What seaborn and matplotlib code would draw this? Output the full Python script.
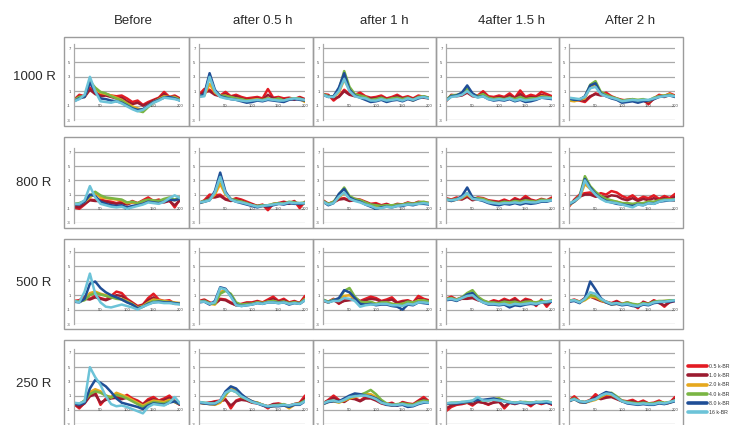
import numpy as np
import pandas as pd
import matplotlib
matplotlib.use("Agg")
import matplotlib.pyplot as plt
import seaborn as sns
from matplotlib.patches import Rectangle
from matplotlib.lines import Line2D

sns.set_theme(style="white")
plt.rcParams['font.family'] = ['Liberation Sans', 'DejaVu Sans']

# ---------------- data ----------------
x_pos = list(range(0, 201, 10))
series = ["0.5 k-BR", "1.0 k-BR", "2.0 k-BR", "4.0 k-BR", "8.0 k-BR", "16 k-BR"]
colors = ["#e31b23", "#9b1b30", "#e6a81e", "#7ab543", "#1f4e96", "#6cc3d8"]
row_labels = ["1000 R", "800 R", "500 R", "250 R"]
col_labels = ["Before", "after 0.5 h", "after 1 h", "4after 1.5 h", "After 2 h"]
y_ticks = [7, 5, 3, 1, -1, -3]
x_ticks = [50, 100, 150, 200]

# each panel: values per series, in the order of `series`
r1000_before = [
    [-0.2, 0.5, 0.3, 1.5, 0.8, 0.5, 0.6, 0.4, 0.3, 0.4, 0.0, -0.5, -0.3, -0.9, -0.5, -0.2, 0.1, 0.9, 0.2, 0.4, 0.0],
    [-0.3, 0.3, 0.2, 1.2, 0.6, 0.3, 0.4, 0.2, 0.0, 0.1, -0.4, -0.8, -0.6, -1.0, -0.7, -0.3, 0.0, 0.6, 0.1, 0.3, -0.1],
    [-0.3, 0.2, 0.2, 2.4, 1.3, 0.8, 0.6, 0.4, 0.1, -0.2, -0.7, -1.1, -1.4, -1.6, -1.0, -0.5, -0.1, 0.3, 0.2, 0.2, -0.2],
    [-0.3, 0.2, 0.3, 2.4, 1.5, 0.9, 0.7, 0.3, 0.0, -0.3, -0.8, -1.3, -1.7, -1.9, -1.2, -0.6, -0.2, 0.2, 0.1, 0.1, -0.2],
    [-0.4, 0.0, 0.2, 2.2, 0.9, 0.0, -0.1, -0.3, -0.4, -0.6, -1.0, -1.4, -1.6, -1.5, -1.0, -0.5, -0.2, 0.1, 0.2, 0.0, -0.3],
    [-0.4, -0.1, 0.5, 3.0, 1.0, -0.4, -0.5, -0.6, -0.4, -0.7, -1.1, -1.5, -1.8, -1.6, -1.1, -0.6, -0.3, 0.1, 0.0, -0.1, -0.3],
]
r1000_05h = [
    [0.5, 1.3, 1.2, 0.7, 0.4, 0.9, 0.3, 0.5, 0.2, 0.0, 0.1, 0.2, 0.0, 1.3, 0.1, 0.2, 0.0, 0.1, -0.1, 0.2, -0.1],
    [0.4, 0.9, 1.0, 0.5, 0.3, 0.6, 0.2, 0.3, 0.0, -0.2, -0.1, 0.0, -0.2, 0.5, 0.0, 0.0, -0.2, 0.0, -0.2, 0.1, -0.2],
    [0.3, 0.4, 2.0, 0.8, 0.3, 0.4, 0.1, 0.0, -0.2, -0.3, -0.2, -0.1, -0.3, 0.0, -0.2, -0.1, -0.3, -0.1, 0.0, -0.1, -0.5],
    [0.3, 0.5, 3.1, 1.0, 0.4, 0.3, 0.2, 0.0, -0.1, -0.3, -0.3, -0.2, -0.2, 0.0, -0.2, 0.0, -0.3, -0.1, 0.0, 0.0, -0.3],
    [0.2, 0.6, 3.5, 1.2, 0.3, 0.1, -0.1, -0.2, -0.4, -0.6, -0.5, -0.3, -0.4, -0.2, -0.3, -0.4, -0.5, -0.2, -0.1, -0.2, -0.3],
    [0.2, 0.3, 3.0, 1.0, 0.2, 0.0, -0.1, -0.2, -0.3, -0.4, -0.3, -0.2, -0.3, -0.1, -0.2, -0.3, -0.3, -0.1, 0.0, -0.1, -0.2],
]
r1000_1h = [
    [0.6, 0.5, -0.3, 0.3, 1.2, 0.6, 0.5, 0.8, 0.3, 0.1, 0.2, 0.4, 0.0, 0.2, 0.5, 0.1, 0.3, 0.0, 0.4, 0.2, 0.1],
    [0.5, 0.4, 0.0, 0.2, 1.0, 0.5, 0.3, 0.5, 0.1, 0.0, 0.0, 0.2, -0.1, 0.0, 0.3, 0.0, 0.1, -0.1, 0.2, 0.1, 0.0],
    [0.5, 0.3, 0.2, 0.8, 2.6, 1.2, 0.5, 0.3, 0.1, -0.3, -0.2, 0.0, -0.3, -0.1, 0.0, -0.2, 0.0, -0.3, 0.1, 0.3, 0.0],
    [0.6, 0.3, 0.3, 1.2, 3.8, 1.6, 0.6, 0.4, 0.2, -0.2, -0.1, 0.1, -0.2, 0.0, 0.1, -0.1, 0.1, -0.2, 0.2, 0.3, 0.1],
    [0.5, 0.2, 0.3, 1.5, 3.5, 1.2, 0.4, 0.1, -0.2, -0.5, -0.4, -0.2, -0.5, -0.3, -0.2, -0.4, -0.1, -0.3, 0.0, 0.2, 0.0],
    [0.5, 0.2, 0.2, 1.0, 2.7, 1.0, 0.3, 0.1, 0.0, -0.3, -0.3, -0.1, -0.3, -0.2, -0.1, -0.3, 0.0, -0.2, 0.1, 0.2, 0.0],
]
r1000_15h = [
    [-0.4, 0.5, 0.4, 0.6, 0.9, 0.5, 0.4, 1.0, 0.3, 0.2, 0.4, 0.2, 0.7, 0.1, 1.1, 0.2, 0.5, 0.3, 0.9, 0.6, 0.3],
    [-0.3, 0.4, 0.3, 0.4, 0.8, 0.3, 0.2, 0.7, 0.1, 0.0, 0.2, 0.0, 0.4, 0.0, 0.6, 0.0, 0.2, 0.1, 0.5, 0.3, 0.1],
    [-0.3, 0.3, 0.4, 0.6, 1.2, 0.6, 0.3, 0.5, 0.0, -0.1, 0.0, -0.2, 0.1, -0.2, 0.1, -0.2, 0.0, -0.1, 0.3, 0.2, 0.0],
    [-0.2, 0.4, 0.5, 0.7, 1.3, 0.6, 0.3, 0.6, 0.1, -0.1, 0.0, -0.1, 0.1, -0.1, 0.2, -0.1, 0.0, 0.0, 0.2, 0.2, 0.1],
    [-0.3, 0.3, 0.4, 0.8, 1.8, 0.7, 0.2, 0.3, -0.1, -0.3, -0.2, -0.3, -0.1, -0.4, -0.2, -0.5, -0.4, -0.2, 0.1, 0.0, -0.1],
    [-0.3, 0.2, 0.3, 0.5, 1.0, 0.4, 0.1, 0.3, -0.1, -0.2, -0.1, -0.2, 0.0, -0.3, -0.1, -0.3, -0.2, -0.1, 0.1, 0.1, 0.0],
]
r1000_2h = [
    [0.0, -0.2, -0.3, -0.5, 0.2, 0.7, 0.5, 0.8, 0.3, 0.0, -0.2, -0.3, -0.1, -0.5, -0.2, -0.8, 0.0, 0.5, 0.3, 0.7, 0.4],
    [0.0, -0.1, -0.2, -0.3, 0.3, 0.6, 0.4, 0.5, 0.2, -0.1, -0.3, -0.2, -0.2, -0.4, -0.3, -0.6, -0.1, 0.3, 0.2, 0.5, 0.3],
    [-0.3, -0.4, -0.2, 0.0, 1.6, 1.9, 0.8, 0.4, 0.1, -0.1, -0.4, -0.3, -0.2, -0.3, -0.2, -0.4, 0.0, 0.3, 0.4, 0.6, 0.2],
    [-0.1, -0.2, -0.1, 0.2, 1.9, 2.4, 0.9, 0.5, 0.2, 0.0, -0.3, -0.2, -0.1, -0.2, -0.1, -0.3, 0.1, 0.3, 0.4, 0.5, 0.3],
    [0.0, -0.2, -0.2, 0.3, 1.8, 2.1, 0.7, 0.3, 0.0, -0.2, -0.6, -0.5, -0.4, -0.6, -0.4, -0.3, -0.1, 0.2, 0.3, 0.4, 0.2],
    [0.1, 0.0, -0.1, 0.2, 1.4, 1.6, 0.6, 0.3, 0.1, -0.1, -0.4, -0.3, -0.2, -0.3, -0.2, -0.2, 0.0, 0.2, 0.3, 0.4, 0.3],
]
r800_before = [
    [-0.8, -1.0, -0.4, 0.3, 0.2, 0.3, 0.1, 0.0, -0.2, 0.0, -0.3, 0.1, -0.2, 0.2, 0.6, 0.1, 0.3, 0.0, 0.2, -0.8, 0.4],
    [-0.7, -0.8, -0.3, 0.2, 0.1, 0.1, 0.0, -0.2, -0.3, -0.2, -0.4, -0.1, -0.3, 0.0, 0.3, 0.0, 0.1, -0.1, 0.1, -0.5, 0.2],
    [-0.4, -0.3, 0.0, 0.6, 1.2, 0.6, 0.5, 0.4, 0.3, 0.2, -0.2, -0.1, -0.3, 0.0, 0.2, 0.1, 0.0, 0.3, 0.4, 0.2, 0.5],
    [-0.3, -0.2, 0.1, 0.8, 1.4, 0.9, 0.6, 0.5, 0.4, 0.3, -0.1, 0.0, -0.2, 0.1, 0.3, 0.2, 0.1, 0.4, 0.6, 0.3, 0.6],
    [-0.4, -0.4, 0.0, 1.0, 0.8, 0.0, -0.3, -0.5, -0.6, -0.5, -0.8, -0.6, -0.5, -0.3, 0.0, -0.1, -0.2, 0.0, 0.3, 0.2, 0.4],
    [-0.3, -0.3, 0.2, 2.2, 0.6, -0.3, -0.5, -0.7, -0.8, -0.7, -1.0, -0.8, -0.6, -0.4, -0.1, -0.2, -0.3, 0.0, 0.5, 0.9, 0.5],
]
r800_05h = [
    [-0.2, 0.2, 1.0, 0.9, 1.0, 0.4, 0.2, 0.5, 0.3, 0.0, -0.3, -0.6, -0.4, -1.2, -0.3, -0.2, 0.0, -0.2, 0.1, -0.9, 0.0],
    [-0.2, 0.1, 0.6, 0.6, 0.8, 0.3, 0.1, 0.3, 0.1, -0.2, -0.4, -0.6, -0.5, -0.8, -0.4, -0.3, -0.1, -0.3, 0.0, -0.5, -0.1],
    [-0.2, 0.0, 0.3, 1.0, 2.5, 1.0, 0.3, 0.1, 0.0, -0.3, -0.5, -0.7, -0.6, -0.5, -0.4, -0.2, -0.3, -0.1, -0.2, -0.3, -0.2],
    [-0.1, 0.1, 0.3, 1.3, 3.3, 1.2, 0.4, 0.2, 0.0, -0.2, -0.5, -0.6, -0.5, -0.5, -0.3, -0.2, -0.3, 0.0, -0.1, -0.2, -0.1],
    [-0.2, 0.0, 0.2, 1.5, 4.1, 1.4, 0.3, 0.0, -0.2, -0.4, -0.6, -0.8, -0.6, -0.6, -0.5, -0.3, -0.4, -0.2, -0.3, -0.3, -0.2],
    [-0.1, 0.0, 0.2, 1.3, 3.5, 1.2, 0.3, 0.0, -0.1, -0.3, -0.5, -0.7, -0.6, -0.5, -0.4, -0.3, -0.3, -0.1, -0.2, -0.2, -0.2],
]
r800_1h = [
    [0.2, -0.3, 0.0, 0.4, 0.5, 0.2, 0.4, 0.3, 0.0, -0.3, -0.2, -0.5, -0.3, -0.6, -0.3, -0.4, -0.1, -0.3, 0.0, -0.1, -0.2],
    [0.1, -0.3, -0.1, 0.3, 0.4, 0.1, 0.2, 0.1, -0.1, -0.4, -0.4, -0.6, -0.4, -0.6, -0.4, -0.4, -0.2, -0.3, -0.1, -0.2, -0.2],
    [0.0, -0.4, -0.1, 0.6, 1.2, 0.6, 0.3, 0.2, -0.2, -0.5, -0.6, -0.7, -0.5, -0.6, -0.5, -0.5, -0.3, -0.4, -0.2, -0.1, -0.3],
    [0.1, -0.3, 0.0, 1.0, 2.0, 0.8, 0.4, 0.2, -0.1, -0.4, -0.5, -0.6, -0.5, -0.5, -0.4, -0.4, -0.2, -0.3, -0.1, 0.0, -0.2],
    [0.0, -0.5, -0.2, 1.1, 1.8, 0.6, 0.2, 0.0, -0.4, -0.7, -1.0, -0.8, -0.7, -0.8, -0.6, -0.6, -0.4, -0.5, -0.3, -0.3, -0.4],
    [0.0, -0.4, -0.2, 0.7, 1.3, 0.4, 0.1, -0.1, -0.4, -0.6, -0.9, -0.9, -0.7, -0.8, -0.6, -0.5, -0.4, -0.4, -0.3, -0.2, -0.3],
]
r800_15h = [
    [0.5, 0.3, 0.6, 0.4, 0.9, 0.3, 0.6, 0.5, 0.2, 0.1, 0.0, 0.3, 0.0, 0.5, 0.2, 0.8, 0.3, 0.1, 0.4, 0.2, 0.6],
    [0.4, 0.2, 0.4, 0.3, 0.7, 0.2, 0.4, 0.3, 0.1, 0.0, -0.1, 0.1, -0.1, 0.3, 0.1, 0.5, 0.2, 0.0, 0.3, 0.1, 0.4],
    [0.3, 0.1, 0.3, 0.5, 1.0, 0.4, 0.4, 0.3, 0.0, -0.2, -0.3, -0.1, -0.2, 0.0, -0.1, 0.1, 0.0, -0.1, 0.2, 0.1, 0.3],
    [0.4, 0.2, 0.4, 0.6, 1.2, 0.5, 0.5, 0.4, 0.1, -0.1, -0.2, 0.0, -0.1, 0.1, 0.0, 0.2, 0.1, 0.0, 0.3, 0.2, 0.3],
    [0.3, 0.1, 0.3, 0.8, 2.0, 0.6, 0.3, 0.1, -0.2, -0.4, -0.5, -0.3, -0.4, -0.2, -0.4, -0.2, -0.3, -0.2, 0.0, 0.0, 0.2],
    [0.3, 0.2, 0.3, 0.6, 1.2, 0.4, 0.3, 0.2, -0.1, -0.2, -0.3, -0.2, -0.2, -0.1, -0.2, 0.0, -0.1, -0.1, 0.1, 0.1, 0.2],
]
r800_2h = [
    [-0.7, 0.3, 1.0, 1.2, 1.3, 0.9, 1.2, 1.0, 1.5, 1.3, 0.8, 0.5, 0.9, 0.3, 0.7, 0.5, 0.9, 0.4, 0.8, 0.5, 1.1],
    [-0.5, 0.2, 0.7, 1.0, 1.0, 0.7, 0.8, 0.6, 0.9, 0.8, 0.4, 0.2, 0.5, 0.1, 0.4, 0.2, 0.5, 0.2, 0.5, 0.3, 0.7],
    [-0.5, 0.0, 0.6, 2.5, 1.8, 1.2, 0.7, 0.3, 0.1, 0.0, -0.2, -0.3, -0.4, -0.2, -0.3, 0.0, -0.1, 0.1, 0.2, 0.3, 0.2],
    [-0.3, 0.1, 0.8, 3.6, 2.2, 1.4, 0.8, 0.4, 0.2, 0.0, -0.2, -0.2, -0.3, -0.2, -0.2, 0.0, 0.0, 0.2, 0.3, 0.3, 0.3],
    [-0.4, 0.0, 0.7, 3.2, 2.0, 1.1, 0.5, 0.1, -0.1, -0.3, -0.4, -0.5, -0.6, -0.4, -0.5, -0.2, -0.3, 0.0, 0.1, 0.2, 0.2],
    [-0.3, 0.1, 0.6, 3.0, 1.8, 1.0, 0.4, 0.0, -0.1, -0.2, -0.4, -0.6, -0.8, -0.4, -0.5, -0.2, -0.3, 0.0, 0.2, 0.2, 0.3],
]
r500_before = [
    [0.2, 0.3, 0.8, 0.5, 0.9, 0.6, 0.4, 0.9, 1.5, 1.3, 0.5, 0.0, -0.5, -0.3, 0.6, 1.2, 0.4, 0.2, 0.3, -0.2, -0.1],
    [0.1, 0.2, 0.5, 0.4, 0.7, 0.5, 0.3, 0.6, 1.0, 0.9, 0.3, -0.1, -0.6, -0.4, 0.3, 0.7, 0.2, 0.1, 0.1, -0.2, -0.2],
    [0.2, 0.1, 0.4, 1.3, 1.5, 1.2, 1.0, 0.8, 0.6, 0.5, 0.2, -0.2, -0.7, -0.5, 0.0, 0.4, 0.3, 0.2, 0.1, 0.0, -0.1],
    [0.2, 0.1, 0.3, 1.0, 1.3, 1.1, 0.9, 0.7, 0.5, 0.4, 0.1, -0.3, -0.9, -0.6, -0.1, 0.2, 0.2, 0.1, 0.0, -0.1, -0.2],
    [0.1, 0.0, 0.5, 2.6, 2.9, 2.0, 1.4, 1.0, 0.7, 0.4, 0.0, -0.3, -0.8, -0.6, -0.2, 0.0, 0.1, 0.0, 0.0, -0.1, -0.2],
    [0.2, 0.0, 1.5, 4.0, 1.2, 0.0, -0.6, -0.7, -0.5, -0.3, -0.5, -0.7, -1.0, -0.6, -0.3, 0.0, 0.0, -0.1, -0.1, -0.2, -0.3],
]
r500_05h = [
    [0.2, 0.4, 0.0, -0.2, 0.5, 0.4, 0.0, -0.4, -0.2, 0.0, 0.0, 0.2, 0.0, 0.4, 0.8, 0.2, 0.5, 0.0, 0.2, -0.1, 0.9],
    [0.1, 0.3, -0.1, -0.2, 0.4, 0.3, -0.1, -0.4, -0.3, -0.1, -0.1, 0.1, -0.1, 0.2, 0.5, 0.1, 0.3, -0.1, 0.1, -0.1, 0.6],
    [0.1, 0.2, -0.2, -0.3, 1.4, 1.8, 1.0, -0.2, -0.4, -0.3, -0.2, 0.0, -0.1, 0.1, 0.2, 0.0, 0.1, -0.2, 0.0, -0.2, 0.5],
    [0.1, 0.2, -0.1, -0.2, 1.2, 1.6, 1.2, 0.0, -0.3, -0.2, -0.2, 0.0, -0.1, 0.1, 0.2, 0.0, 0.1, -0.1, 0.0, -0.1, 0.4],
    [0.0, 0.1, -0.3, 0.2, 2.1, 1.9, 0.9, -0.3, -0.5, -0.4, -0.3, -0.1, -0.2, 0.0, 0.0, -0.1, 0.0, -0.3, -0.1, -0.2, 0.3],
    [0.1, 0.1, -0.2, 0.0, 2.0, 1.8, 0.8, -0.4, -0.5, -0.4, -0.3, -0.1, -0.2, 0.0, 0.0, -0.1, 0.0, -0.2, -0.1, -0.2, 0.3],
]
r500_1h = [
    [0.3, 0.1, 0.5, -0.2, 0.3, 0.4, 0.6, 0.2, 0.5, 0.8, 0.6, 0.2, 0.4, 0.7, 0.0, 0.2, 0.3, 0.0, 0.9, 0.5, 0.3],
    [0.2, 0.0, 0.3, -0.1, 0.2, 0.3, 0.4, 0.1, 0.3, 0.5, 0.4, 0.1, 0.2, 0.4, -0.1, 0.1, 0.2, -0.1, 0.5, 0.3, 0.2],
    [0.3, 0.0, 0.3, 0.2, 0.9, 1.0, 0.5, 0.0, -0.1, 0.0, -0.2, -0.1, 0.0, -0.2, -0.3, -0.2, 0.0, -0.1, 0.3, 0.2, 0.0],
    [0.4, 0.1, 0.4, 0.4, 1.6, 2.0, 0.8, 0.1, 0.0, 0.1, -0.2, 0.0, 0.0, -0.2, -0.3, -0.2, 0.1, 0.0, 0.2, 0.3, 0.1],
    [0.3, 0.0, 0.3, 0.6, 1.7, 1.4, 0.6, -0.2, -0.3, -0.2, -0.4, -0.3, -0.3, -0.5, -0.6, -1.0, -0.3, -0.4, 0.0, -0.1, -0.2],
    [0.3, 0.0, 0.2, 0.2, 0.6, 0.5, 0.2, -0.6, -0.4, -0.3, -0.3, -0.2, -0.2, -0.4, -0.4, -0.5, -0.2, -0.3, 0.0, 0.0, -0.1],
]
r500_15h = [
    [0.5, 0.8, 0.4, 0.7, 0.6, 0.8, 0.4, 0.2, 0.0, 0.3, 0.1, 0.5, 0.2, 0.6, 0.0, 0.5, 0.3, -0.5, 0.4, -0.6, 0.3],
    [0.4, 0.6, 0.3, 0.5, 0.5, 0.6, 0.3, 0.1, -0.1, 0.1, 0.0, 0.3, 0.1, 0.4, -0.1, 0.3, 0.2, -0.3, 0.2, -0.3, 0.2],
    [0.4, 0.5, 0.3, 0.6, 1.0, 1.2, 0.6, 0.2, -0.1, -0.1, -0.2, 0.0, -0.1, 0.0, -0.2, 0.0, 0.1, -0.1, 0.1, 0.0, 0.2],
    [0.5, 0.6, 0.4, 0.7, 1.3, 1.7, 0.8, 0.3, 0.0, 0.0, -0.1, 0.1, 0.0, 0.1, -0.1, 0.1, 0.1, 0.0, 0.2, 0.1, 0.3],
    [0.3, 0.4, 0.2, 0.6, 1.1, 1.3, 0.5, 0.0, -0.3, -0.3, -0.4, -0.3, -0.7, -0.4, -0.5, -0.3, -0.2, -0.3, 0.0, 0.0, 0.1],
    [0.4, 0.5, 0.3, 0.6, 0.9, 1.0, 0.4, 0.0, -0.2, -0.2, -0.3, -0.2, -0.4, -0.2, -0.3, -0.2, -0.1, -0.2, 0.0, 0.1, 0.2],
]
r500_2h = [
    [0.2, 0.4, 0.1, 0.6, 1.0, 0.7, 0.3, 0.1, -0.1, 0.2, -0.2, 0.0, -0.3, -0.8, 0.1, -0.2, 0.3, 0.0, -0.6, 0.1, 0.3],
    [0.1, 0.3, 0.0, 0.5, 0.8, 0.5, 0.2, 0.0, -0.2, 0.1, -0.3, -0.1, -0.3, -0.5, 0.0, -0.2, 0.2, -0.1, -0.4, 0.0, 0.2],
    [0.2, 0.3, 0.0, 0.3, 0.8, 0.7, 0.3, 0.0, -0.3, -0.2, -0.3, -0.1, -0.3, -0.4, -0.2, -0.3, 0.0, 0.1, 0.2, 0.2, 0.3],
    [0.3, 0.3, 0.1, 0.4, 1.0, 0.9, 0.4, 0.1, -0.2, -0.1, -0.2, 0.0, -0.2, -0.3, -0.1, -0.2, 0.1, 0.2, 0.2, 0.3, 0.3],
    [0.1, 0.2, -0.1, 0.6, 2.9, 1.8, 0.6, 0.0, -0.3, -0.2, -0.4, -0.3, -0.5, -0.6, -0.3, -0.4, -0.1, 0.0, 0.1, 0.1, 0.2],
    [0.2, 0.3, 0.0, 0.5, 1.4, 1.2, 0.5, 0.1, -0.2, -0.1, -0.3, -0.2, -0.4, -0.5, -0.2, -0.3, 0.0, 0.1, 0.1, 0.2, 0.3],
]
r250_before = [
    [-0.2, -0.8, 0.0, 1.2, 1.5, -0.3, 0.6, 0.8, 1.0, 0.7, 1.1, 0.6, 0.3, -0.2, 0.5, 0.8, 0.3, 0.6, 1.0, 0.2, -0.3],
    [-0.2, -0.6, -0.1, 0.9, 1.2, 0.0, 0.4, 0.6, 0.7, 0.5, 0.7, 0.4, 0.1, -0.3, 0.3, 0.5, 0.2, 0.4, 0.7, 0.1, -0.3],
    [-0.1, -0.2, 0.3, 1.5, 1.9, 1.6, 1.0, 0.8, 1.4, 1.1, 0.8, 0.4, 0.0, -0.4, 0.0, 0.3, 0.2, 0.1, 0.4, 0.2, -0.1],
    [-0.1, -0.2, 0.3, 1.2, 1.6, 1.4, 1.0, 0.7, 1.1, 0.9, 0.6, 0.2, -0.2, -0.6, -0.2, 0.1, 0.0, -0.1, 0.2, 0.1, -0.2],
    [-0.1, -0.3, 0.0, 2.0, 3.2, 2.8, 2.3, 1.5, 0.6, 0.0, -0.2, -0.4, -0.6, -0.9, -0.4, -0.1, -0.2, -0.3, 0.0, 0.2, -0.2],
    [0.0, -0.1, 0.2, 5.0, 3.6, 2.5, 0.9, -0.2, -0.5, -0.4, -0.6, -0.9, -1.2, -1.5, -0.6, -0.2, -0.3, -0.4, 0.0, 0.8, -0.1],
]
r250_05h = [
    [0.1, -0.1, 0.0, 0.2, 0.3, 0.5, -0.8, 0.3, 0.6, 0.5, 0.1, 0.0, -0.3, -0.8, -0.2, -0.1, -0.3, -0.5, -0.2, 0.0, 1.0],
    [0.0, -0.1, 0.0, 0.1, 0.2, 0.4, -0.4, 0.2, 0.4, 0.3, 0.0, -0.1, -0.3, -0.5, -0.2, -0.2, -0.3, -0.4, -0.2, -0.1, 0.6],
    [0.0, -0.1, -0.2, -0.3, 0.0, 1.0, 2.2, 1.8, 1.0, 0.6, 0.2, 0.0, -0.3, -0.6, -0.5, -0.4, -0.3, -0.8, -0.3, -0.2, 0.3],
    [0.1, 0.0, -0.1, -0.1, 0.2, 1.2, 1.8, 1.5, 0.8, 0.5, 0.1, 0.0, -0.3, -0.5, -0.4, -0.3, -0.2, -0.5, -0.2, -0.1, 0.3],
    [0.0, -0.1, -0.2, -0.2, 0.3, 1.6, 2.3, 2.0, 1.2, 0.6, 0.2, -0.1, -0.4, -0.6, -0.5, -0.5, -0.4, -0.6, -0.3, -0.3, 0.2],
    [0.1, 0.0, -0.1, -0.1, 0.3, 1.4, 1.8, 1.5, 0.9, 0.5, 0.1, -0.1, -0.3, -0.5, -0.4, -0.4, -0.3, -0.4, -0.2, -0.2, 0.2],
]
r250_1h = [
    [-0.1, 0.4, 1.0, 0.4, 0.2, 0.8, 0.6, 0.3, 0.8, 0.9, 0.5, 0.0, -0.2, 0.0, -0.4, 0.1, -0.1, -0.2, 0.3, 0.8, 0.2],
    [-0.1, 0.3, 0.7, 0.3, 0.1, 0.6, 0.5, 0.2, 0.6, 0.6, 0.3, -0.1, -0.3, -0.1, -0.4, 0.0, -0.2, -0.3, 0.2, 0.5, 0.1],
    [-0.2, 0.1, 0.2, 0.0, 0.3, 0.6, 0.8, 1.0, 1.2, 1.2, 0.8, 0.2, -0.2, -0.4, -0.3, -0.2, -0.3, -0.4, 0.0, 0.2, 0.1],
    [-0.1, 0.2, 0.3, 0.1, 0.4, 0.7, 1.0, 1.1, 1.4, 1.8, 1.2, 0.4, -0.1, -0.3, -0.2, -0.1, -0.2, -0.3, 0.1, 0.3, 0.2],
    [-0.2, 0.1, 0.2, 0.2, 0.6, 1.0, 1.3, 1.2, 1.0, 0.9, 0.6, 0.1, -0.3, -0.4, -0.4, -0.3, -0.6, -0.5, -0.2, 0.0, 0.0],
    [-0.1, 0.2, 0.3, 0.1, 0.4, 0.8, 0.9, 1.0, 1.0, 0.8, 0.5, 0.0, -0.2, -0.3, -0.3, -0.2, -0.4, -0.4, -0.1, 0.1, 0.0],
]
r250_15h = [
    [-1.2, -0.6, -0.3, -0.2, 0.0, -0.4, 0.2, 0.0, -0.3, 0.1, 0.2, -0.8, 0.0, -0.2, 0.1, 0.0, -0.5, 0.1, -0.2, 0.1, -0.3],
    [-0.8, -0.4, -0.2, -0.1, 0.0, -0.2, 0.1, 0.0, -0.2, 0.0, 0.1, -0.5, 0.0, -0.1, 0.0, 0.0, -0.3, 0.0, -0.1, 0.0, -0.2],
    [-0.2, -0.1, 0.0, 0.0, 0.1, 0.2, 0.5, 0.3, 0.3, 0.5, 0.6, 0.2, 0.1, 0.0, 0.1, 0.0, 0.0, 0.1, 0.0, 0.1, 0.0],
    [-0.1, 0.0, 0.0, 0.1, 0.1, 0.3, 0.5, 0.3, 0.4, 0.5, 0.6, 0.3, 0.1, 0.0, 0.1, 0.1, 0.0, 0.1, 0.1, 0.2, 0.0],
    [-0.2, -0.1, -0.1, 0.0, 0.1, 0.2, 0.4, 0.4, 0.5, 0.6, 0.4, 0.2, 0.0, -0.1, 0.0, -0.1, -0.1, 0.0, 0.0, 0.0, -0.1],
    [-0.1, 0.0, 0.0, 0.1, 0.2, 0.3, 0.8, 0.3, 0.3, 0.4, 0.3, 0.2, 0.1, 0.0, 0.1, 0.0, 0.0, 0.1, 0.1, 0.2, 0.0],
]
r250_2h = [
    [0.3, 0.9, 0.2, 0.1, 0.4, 1.2, 0.6, 0.9, 1.0, 0.6, 0.3, 0.2, 0.4, 0.0, 0.3, -0.1, 0.0, 0.3, -0.1, 0.0, 0.8],
    [0.2, 0.6, 0.1, 0.0, 0.3, 0.8, 0.5, 0.7, 0.8, 0.5, 0.2, 0.1, 0.2, -0.1, 0.1, -0.1, -0.1, 0.1, -0.1, 0.0, 0.5],
    [0.2, 0.5, 0.1, 0.0, 0.2, 0.4, 0.8, 1.2, 1.1, 0.7, 0.2, 0.0, -0.1, -0.2, -0.1, -0.2, -0.2, 0.0, -0.1, 0.0, 0.3],
    [0.3, 0.6, 0.2, 0.1, 0.3, 0.5, 0.9, 1.3, 1.4, 0.9, 0.3, 0.1, 0.0, -0.1, 0.0, -0.1, -0.1, 0.1, 0.0, 0.1, 0.3],
    [0.2, 0.5, 0.1, 0.0, 0.3, 0.6, 1.1, 1.5, 1.3, 0.7, 0.2, -0.1, -0.2, -0.3, -0.2, -0.3, -0.3, -0.1, -0.2, 0.0, 0.2],
    [0.3, 0.5, 0.2, 0.1, 0.3, 0.5, 1.0, 1.3, 1.2, 0.7, 0.2, 0.0, -0.1, -0.2, -0.1, -0.2, -0.2, 0.0, -0.1, 0.1, 0.3],
]

panels = [
    [r1000_before, r1000_05h, r1000_1h, r1000_15h, r1000_2h],
    [r800_before, r800_05h, r800_1h, r800_15h, r800_2h],
    [r500_before, r500_05h, r500_1h, r500_15h, r500_2h],
    [r250_before, r250_05h, r250_1h, r250_15h, r250_2h],
]

# ---------------- layout (pixels) ----------------
W, H = 740, 425
fig = plt.figure(figsize=(W / 100, H / 100), dpi=100)
fig.patch.set_facecolor("white")

cell_left = [64, 189, 313, 436, 559]
cell_right = [189, 313, 436, 559, 683]
frame_top = [37, 137, 239, 340]
frame_bot = [126, 228, 329, 432]
grid7 = [48, 152, 252, 353]
gridm3 = [120, 223, 324, 424]
col_centers = [133, 263, 384, 511, 630]
row_centers = [77, 183, 283, 384]

grid_c = "#a9a9a9"
frame_c = "#9c9c9c"
txt_c = "#2a2a2a"
YMAX = 7.6

def fx(px):
    return px / W

def fy(py):
    return 1 - py / H

for r in range(4):
    for c in range(5):
        fig.add_artist(Rectangle((fx(cell_left[c]), fy(frame_bot[r])),
                                 fx(cell_right[c] - cell_left[c]),
                                 (frame_bot[r] - frame_top[r]) / H,
                                 transform=fig.transFigure, fill=False,
                                 ec=frame_c, lw=1.0, zorder=0))
        x0 = cell_left[c] + 10
        x1 = cell_left[c] + 116
        y_bot = gridm3[r]
        unit = (gridm3[r] - grid7[r]) / 10.0
        y_top = grid7[r] - (YMAX - 7) * unit
        ax = fig.add_axes([fx(x0), fy(y_bot), (x1 - x0) / W, (y_bot - y_top) / H])
        ax.set_facecolor("none")
        ax.set_xlim(0, 200)
        ax.set_ylim(-3, YMAX)
        for v in y_ticks:
            ax.axhline(v, color=grid_c, lw=0.9, zorder=0)
        vals = panels[r][c]
        df = pd.DataFrame({
            "x": x_pos * len(series),
            "value": [v for s in vals for v in s],
            "series": [name for name in series for _ in x_pos],
        })
        sns.lineplot(data=df, x="x", y="value", hue="series", hue_order=series,
                     palette=colors, linewidth=1.8, legend=False, ax=ax,
                     sort=False, errorbar=None)
        for spine in ["top", "right", "bottom"]:
            ax.spines[spine].set_visible(False)
        ax.spines["left"].set_color(grid_c)
        ax.spines["left"].set_linewidth(0.9)
        ax.set_yticks(y_ticks)
        ax.set_yticklabels([str(t) for t in y_ticks])
        ax.tick_params(axis="y", length=0, pad=2.5, labelsize=3, labelcolor="#444444")
        ax.set_xticks([])
        ax.set_xlabel("")
        ax.set_ylabel("")
        for t in x_ticks:
            ax.text(t, -1, str(t), fontsize=3, color="#444444", ha="center", va="center", zorder=1)

for c, lab in enumerate(col_labels):
    fig.text(fx(col_centers[c]), fy(21), lab, ha="center", va="center", fontsize=9.5, color=txt_c)
for r, lab in enumerate(row_labels):
    fig.text(fx(34), fy(row_centers[r]), lab, ha="center", va="center", fontsize=9.5, color=txt_c)

handles = [Line2D([0], [0], color=col, lw=2.6) for col in colors]
fig.legend(handles, series, loc="upper left", bbox_to_anchor=(fx(688), fy(364)),
           frameon=False, fontsize=3.8, handlelength=3.6, handletextpad=0.3,
           labelspacing=0.8, borderpad=0, borderaxespad=0, labelcolor="#333333")

fig.savefig("out.png", dpi=100, facecolor="white")
